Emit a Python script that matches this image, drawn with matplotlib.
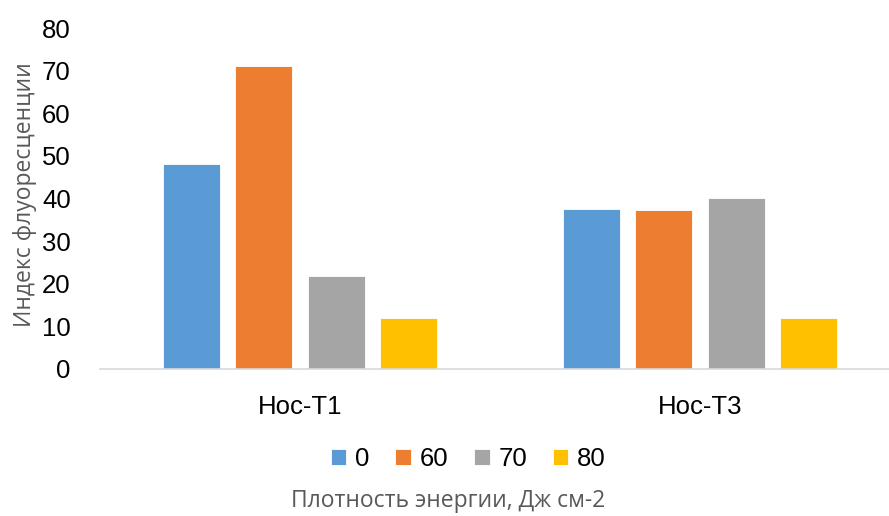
import matplotlib.pyplot as plt
import numpy as np

plt.rcParams['font.family'] = ['Liberation Sans', 'DejaVu Sans']

categories = ['Hoc-T1', 'Hoc-T3']
energies = ['0', '60', '70', '80']
values = {
    '0': [48, 37.6],
    '60': [71, 37.3],
    '70': [21.8, 40.1],
    '80': [12, 12],
}
colors = ['#5b9bd5', '#ed7d31', '#a5a5a5', '#ffc000']

fig = plt.figure(figsize=(8.89, 5.16), dpi=100)
ax = fig.add_axes([0.1125, 0.2849, 0.8875, 0.6608])

x = np.arange(len(categories))
step = 0.181
width = 0.1425
for i, (name, col) in enumerate(zip(energies, colors)):
    offs = (i - 1.5) * step
    ax.bar(x + offs, values[name], width, color=col, label=name,
           edgecolor='white', linewidth=0.6)

ax.set_xlim(-0.5, 1.4725)
ax.set_ylim(0, 80)
ax.set_yticks(range(0, 81, 10))
ax.set_xticks(x)
ax.set_xticklabels(categories)

for s in ['top', 'right', 'left']:
    ax.spines[s].set_visible(False)
ax.spines['bottom'].set_color('#d9d9d9')
ax.spines['bottom'].set_linewidth(1.2)
ax.tick_params(axis='both', length=0, labelsize=18.5, colors='#000000')
ax.tick_params(axis='x', pad=19)
ax.tick_params(axis='y', pad=21)

label_font = {'family': ['Open Sans', 'DejaVu Sans'], 'size': 16.5,
              'color': '#595959'}
ax.set_ylabel('Индекс флуоресценции', fontdict=label_font)
ax.yaxis.set_label_coords(-0.08, 0.51)
fig.text(0.5045, 0.018, 'Плотность энергии, Дж см-2', fontdict=label_font,
         ha='center')

leg = fig.legend(loc='center', bbox_to_anchor=(0.527, 0.11), ncol=4,
                 frameon=False, fontsize=18.5, handlelength=0.6,
                 handleheight=0.6, handletextpad=0.35, columnspacing=1.0)

fig.savefig('out.png', dpi=100)
